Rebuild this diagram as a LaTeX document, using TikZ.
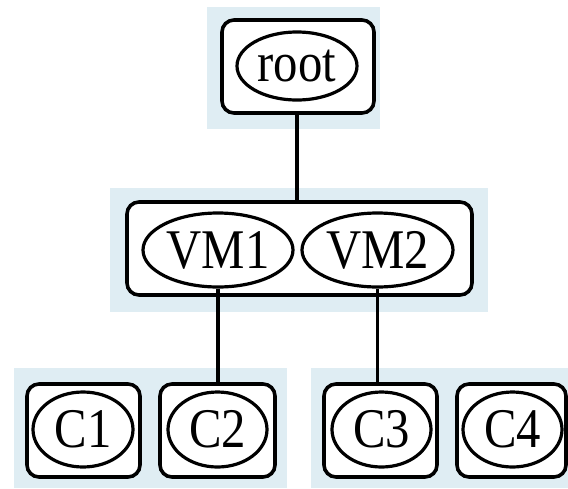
\documentclass[tikz,border=0pt]{standalone}
\usepackage{fontspec}
\setmainfont{Liberation Serif}[FakeStretch=0.87]
\usetikzlibrary{shapes.geometric}
\definecolor{bgblue}{RGB}{223,237,243}
\tikzset{
  x=1pt, y=-1pt,
  bgpanel/.style={rectangle, fill=bgblue, draw=none, inner sep=0pt},
  outerbox/.style={rectangle, rounded corners=12pt, draw=black, line width=3.6pt, fill=white, inner sep=0pt, minimum height=93pt},
  oval/.style={ellipse, draw=black, line width=3.2pt, inner sep=0pt, font=\fontsize{56}{60}\selectfont},
  link/.style={draw=black, line width=3.8pt}
}
\begin{document}
\begin{tikzpicture}
\useasboundingbox (0,0) rectangle (568,488);
% backgrounds
\node[bgpanel, minimum width=173pt, minimum height=122pt] (bgroot) at (293.5,68) {};
\node[bgpanel, minimum width=378pt, minimum height=124pt] (bgvm) at (299,250) {};
\node[bgpanel, minimum width=273pt, minimum height=120pt] (bgleft) at (150.5,428) {};
\node[bgpanel, minimum width=257pt, minimum height=120pt] (bgright) at (439.5,428) {};
% boxes
\node[outerbox, minimum width=152pt] (rootbox) at (298,66.5) {};
\node[outerbox, minimum width=345pt] (vmbox) at (299.5,248.5) {};
\node[outerbox, minimum width=113pt] (c1box) at (83.5,430.5) {};
\node[outerbox, minimum width=115pt] (c2box) at (217.5,430.5) {};
\node[outerbox, minimum width=113pt] (c3box) at (380.5,430.5) {};
\node[outerbox, minimum width=109pt] (c4box) at (511.5,430.5) {};
% ellipses
\node[oval, minimum width=120pt, minimum height=68pt] (root) at (297,66) {root};
\node[oval, minimum width=150pt, minimum height=74pt] (vm1) at (218,250) {VM1};
\node[oval, minimum width=151pt, minimum height=74pt] (vm2) at (377.5,250) {VM2};
\node[oval, minimum width=100pt, minimum height=75pt] (c1) at (83,429.5) {C1};
\node[oval, minimum width=99pt, minimum height=75pt] (c2) at (217.5,429.5) {C2};
\node[oval, minimum width=99pt, minimum height=75pt] (c3) at (381.5,429.5) {C3};
\node[oval, minimum width=99pt, minimum height=75pt] (c4) at (512.5,429.5) {C4};
% connectors
\draw[link] (root.south |- rootbox.south) -- (root.south |- vmbox.north);
\draw[link] (vm1.south) -- (vm1.south |- c2box.north);
\draw[link] (vm2.south) -- (vm2.south |- c3box.north);
\end{tikzpicture}
\end{document}
